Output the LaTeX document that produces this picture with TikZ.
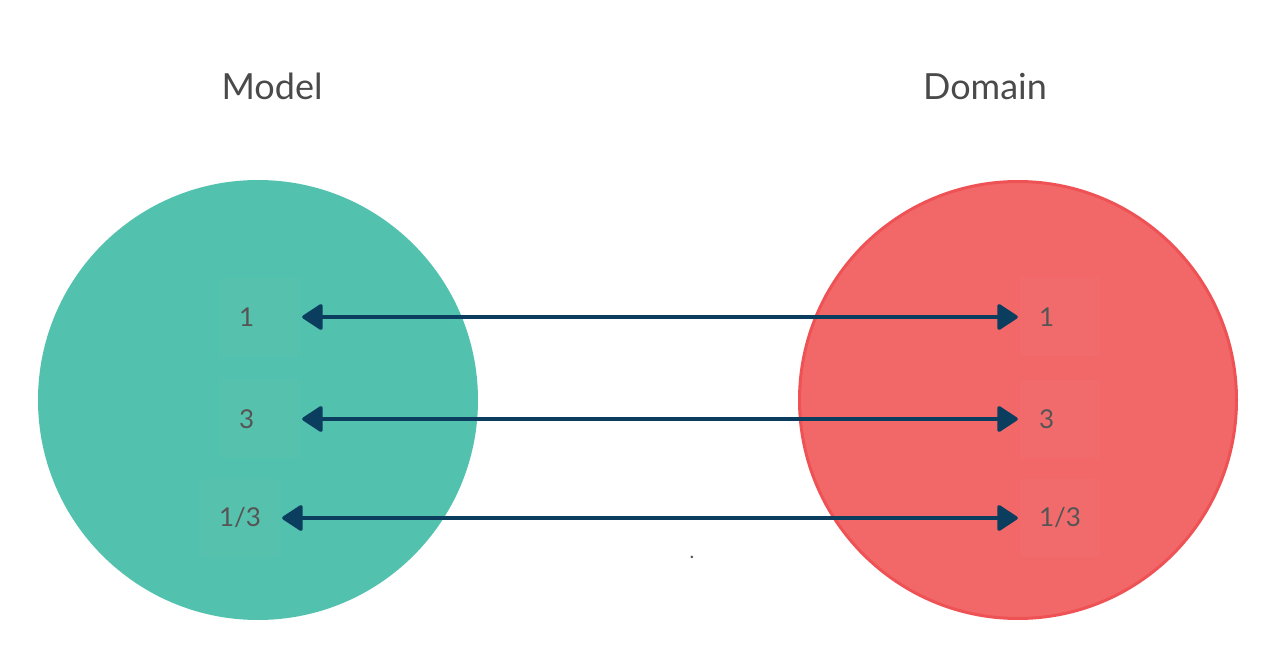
\documentclass[tikz,border=0pt]{standalone}
\usepackage{fontspec}
\setmainfont{Lato}
\usetikzlibrary{arrows.meta}
\definecolor{modelgreen}{HTML}{52C1AD}
\definecolor{domainred}{HTML}{F26869}
\definecolor{domainedge}{HTML}{EE5254}
\definecolor{arrowblue}{HTML}{0B3E5E}
\definecolor{titlegray}{HTML}{4A4A4A}
\definecolor{labelgray}{HTML}{555555}
\begin{document}
\begin{tikzpicture}[x=1pt,y=-1pt]
\tikzstyle{set} = [circle,minimum size=440pt,inner sep=0pt];
\tikzstyle{element} = [minimum width=80pt,minimum height=78pt,fill=white,fill opacity=0.025,text opacity=1,text=labelgray,font=\fontsize{26}{30}\selectfont,text width=42pt,inner xsep=19pt,align=left]
\tikzstyle{title} = [font=\fontsize{36}{42}\selectfont,text=titlegray,anchor=base]
\tikzstyle{map} = [{Triangle[length=22pt,width=28pt,round]}-{Triangle[length=22pt,width=28pt,round]},line width=3.5pt,draw=arrowblue,shorten <=2pt,shorten >=2pt]
\useasboundingbox (0,0) rectangle (1278,658);

\node [set,fill=modelgreen] (model) at (258,400) {};
\node [set,fill=domainred,draw=domainedge,line width=3pt,minimum size=437pt] (domain) at (1018,400) {};
\node [title] (mt) at (272,100) {Model};
\node [title] (dt) at (985,100) {Domain};

\node [element] (m1) at (260,317) {1};
\node [element] (m3) at (260,419) {3};
\node [element] (m13) at (240,518) {1/3};
\node [element] (d1) at (1060,317) {1};
\node [element] (d3) at (1060,419) {3};
\node [element] (d13) at (1060,518) {1/3};

\draw [map] (m1) -- (d1);
\draw [map] (m3) -- (d3);
\draw [map] (m13) -- (d13);
\node [text=labelgray,font=\fontsize{20}{24}\selectfont,anchor=base] (dot) at (692,558) {.};
\end{tikzpicture}
\end{document}
